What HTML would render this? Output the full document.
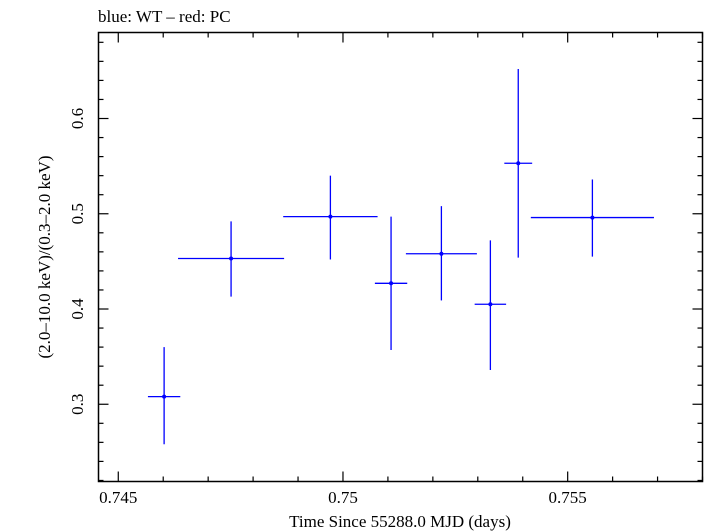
<!DOCTYPE html>
<html><head><meta charset="utf-8"><style>
html,body{margin:0;padding:0;background:#fff;}
svg{display:block;font-family:"Liberation Serif",serif;}
</style></head><body>
<svg id="chart" width="705" height="532">
<text x="98" y="22" font-size="17">blue: WT – red: PC</text>
<rect x="98.5" y="32.5" width="604" height="449" fill="none" stroke="#000" stroke-width="1.5"/>
<g id="ticks"></g>
<g id="points"></g>
<text x="400" y="527" font-size="17" text-anchor="middle">Time Since 55288.0 MJD (days)</text>
<text transform="translate(50,257) rotate(-90)" font-size="17" text-anchor="middle">(2.0–10.0 keV)/(0.3–2.0 keV)</text>
</svg>
<script>
const xVals=[0.74602,0.74751,0.74972,0.75107,0.75219,0.75328,0.7539,0.75555];
const xErr=[0.00036,0.00118,0.00105,0.00036,0.00079,0.00035,0.00031,0.00137];
const yVals=[0.308,0.453,0.497,0.427,0.458,0.405,0.553,0.496];
const yLow=[0.258,0.413,0.452,0.357,0.409,0.336,0.454,0.455];
const yHigh=[0.360,0.492,0.540,0.497,0.508,0.472,0.652,0.536];
const xTicks=[0.745,0.75,0.755];
const xTickLabels=["0.745","0.75","0.755"];
const yTicks=[0.3,0.4,0.5,0.6];
const yTickLabels=["0.3","0.4","0.5","0.6"];
const L=98.5,R=702.5,T=32.5,B=481.5;
const X0=0.74456,X1=0.75800,Y0=0.2189,Y1=0.6903;
const sx=v=>L+(v-X0)/(X1-X0)*(R-L);
const sy=v=>B-(v-Y0)/(Y1-Y0)*(B-T);
const NS="http://www.w3.org/2000/svg";
function mk(tag,attrs,parent){const e=document.createElementNS(NS,tag);for(const k in attrs)e.setAttribute(k,attrs[k]);parent.appendChild(e);return e;}
const tg=document.getElementById('ticks');
for(let i=0;i<=14;i++){const v=0.745+i*0.001;if(v>X1)break;const x=sx(v);const maj=i%5===0;const len=maj?10:5;
let l=mk('line',{x1:x,x2:x,y1:B,y2:B-len,stroke:'#000','stroke-width':1.2},tg);


l=mk('line',{x1:x,x2:x,y1:T,y2:T+len,stroke:'#000','stroke-width':1.2},tg);

}
xTicks.forEach((v,i)=>{const t=mk('text',{x:sx(v),y:503,'font-size':17,'text-anchor':'middle'},tg);t.textContent=xTickLabels[i];

});
for(let i=0;i<=25;i++){const v=0.22+i*0.02;if(v>Y1)break;const y=sy(v);const maj=Math.abs((v*10)-Math.round(v*10))<1e-6;const len=maj?10:5;
let l=mk('line',{x1:L,x2:L+len,y1:y,y2:y,stroke:'#000','stroke-width':1.2},tg);


l=mk('line',{x1:R,x2:R-len,y1:y,y2:y,stroke:'#000','stroke-width':1.2},tg);

}
yTicks.forEach((v,i)=>{const t=mk('text',{transform:`translate(83,${sy(v)}) rotate(-90)`,'font-size':17,'text-anchor':'middle'},tg);t.textContent=yTickLabels[i];

});
const pg=document.getElementById('points');
xVals.forEach((xv,i)=>{const g=mk('g',{},pg);


mk('line',{x1:sx(xv-xErr[i]),x2:sx(xv+xErr[i]),y1:sy(yVals[i]),y2:sy(yVals[i]),stroke:'#0000ff','stroke-width':1.3},g);
mk('line',{x1:sx(xv),x2:sx(xv),y1:sy(yLow[i]),y2:sy(yHigh[i]),stroke:'#0000ff','stroke-width':1.3},g);
mk('circle',{cx:sx(xv),cy:sy(yVals[i]),r:2,fill:'#0000ff'},g);});
</script>
</body></html>
